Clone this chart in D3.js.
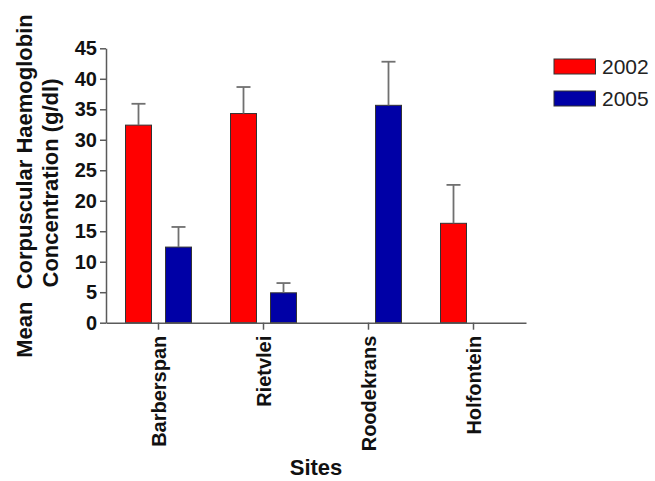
<!DOCTYPE html>
<html>
<head>
<meta charset="utf-8">
<script src="https://cdn.jsdelivr.net/npm/d3@7"></script>
<style>
  html, body { margin: 0; padding: 0; background: #fff; }
  svg { display: block; font-family: "Liberation Sans", Arial, sans-serif; }
</style>
</head>
<body>
<svg id="chart" width="655" height="481"></svg>
<script>
// ---- data ----
const sites = ["Barberspan", "Rietvlei", "Roodekrans", "Holfontein"];
const years = ["2002", "2005"];
const mean2002 = [32.4, 34.3, null, 16.3];
const err2002 = [3.5, 4.35, null, 6.3];
const mean2005 = [12.4, 4.9, 35.65, null];
const err2005 = [3.3, 1.6, 7.15, null];
const yTicks = [0, 5, 10, 15, 20, 25, 30, 35, 40, 45];
const yTitle1 = "Mean  Corpuscular Haemoglobin";
const yTitle2 = "Concentration (g/dl)";
const xTitle = "Sites";
const colors = { "2002": "#ff0000", "2005": "#0000a6" };

const rows = [];
sites.forEach((s, i) => {
  rows.push({ site: s, year: "2002", mean: mean2002[i], err: err2002[i] });
  rows.push({ site: s, year: "2005", mean: mean2005[i], err: err2005[i] });
});

const svg = d3.select("#chart");
const axisColor = "#5a5a5a";

const x = d3.scaleBand().domain(sites).range([106, 526]).padding(0);
const y = d3.scaleLinear().domain([0, 45]).range([322.7, 48.3]);
const sub = d3.scaleBand().domain(years).range([-33, 33]).paddingInner(0.35);

// bars
const bars = rows.filter(d => d.mean != null);
const g = svg.append("g");
g.selectAll("rect.bar").data(bars).join("rect")
  .attr("class", "bar")
  .attr("x", d => x(d.site) + x.bandwidth() / 2 + sub(d.year))
  .attr("width", sub.bandwidth())
  .attr("y", d => y(d.mean))
  .attr("height", d => y(0) - y(d.mean))
  .attr("fill", d => colors[d.year])
  .attr("stroke", "#333")
  .attr("stroke-width", 1);

// error bars (upper only)
const eb = g.selectAll("g.err").data(bars).join("g").attr("class", "err")
  .attr("stroke", "#707070").attr("stroke-width", 1.8);
eb.append("line")
  .attr("x1", d => x(d.site) + x.bandwidth() / 2 + sub(d.year) + sub.bandwidth() / 2)
  .attr("x2", d => x(d.site) + x.bandwidth() / 2 + sub(d.year) + sub.bandwidth() / 2)
  .attr("y1", d => y(d.mean))
  .attr("y2", d => y(d.mean + d.err));
eb.append("line")
  .attr("x1", d => x(d.site) + x.bandwidth() / 2 + sub(d.year) + sub.bandwidth() / 2 - 7)
  .attr("x2", d => x(d.site) + x.bandwidth() / 2 + sub(d.year) + sub.bandwidth() / 2 + 7)
  .attr("y1", d => y(d.mean + d.err))
  .attr("y2", d => y(d.mean + d.err));

// y axis
const yAxis = svg.append("g")
  .attr("transform", "translate(106,0)")
  .call(d3.axisLeft(y).tickValues(yTicks).tickSize(6).tickPadding(3).tickSizeOuter(0));
yAxis.select(".domain").attr("stroke", axisColor).attr("stroke-width", 1.5);
yAxis.selectAll(".tick line").attr("stroke", axisColor).attr("stroke-width", 1.5);
yAxis.selectAll(".tick text")
  .attr("fill", "#111").attr("font-size", "20px").attr("font-weight", "bold")
  .attr("font-family", "'Liberation Sans', Arial, sans-serif");

// x axis
const xAxis = svg.append("g")
  .attr("transform", `translate(0,${y(0)})`)
  .call(d3.axisBottom(x).tickSize(7).tickSizeOuter(0));
xAxis.select(".domain").attr("stroke", axisColor).attr("stroke-width", 1.5);
xAxis.selectAll(".tick line").attr("stroke", axisColor).attr("stroke-width", 1.5);
xAxis.selectAll(".tick text")
  .attr("fill", "#111").attr("font-size", "20px").attr("font-weight", "bold")
  .attr("font-family", "'Liberation Sans', Arial, sans-serif")
  .attr("transform", "rotate(-90)")
  .attr("text-anchor", "end")
  .attr("x", -13).attr("y", 0).attr("dy", "0.35em");

// axis titles
svg.append("text")
  .attr("transform", "translate(32,186) rotate(-90)")
  .attr("text-anchor", "middle")
  .attr("font-size", "22px").attr("font-weight", "bold").attr("fill", "#111")
  .attr("xml:space", "preserve").style("white-space", "pre")
  .text(yTitle1);
svg.append("text")
  .attr("transform", "translate(58,183) rotate(-90)")
  .attr("text-anchor", "middle")
  .attr("font-size", "22px").attr("font-weight", "bold").attr("fill", "#111")
  .text(yTitle2);
svg.append("text")
  .attr("x", 316).attr("y", 475)
  .attr("text-anchor", "middle")
  .attr("font-size", "22px").attr("font-weight", "bold").attr("fill", "#111")
  .text(xTitle);

// legend
const leg = svg.append("g").selectAll("g").data(years).join("g")
  .attr("transform", (d, i) => `translate(554,${59 + i * 32})`);
leg.append("rect")
  .attr("width", 41.5).attr("height", 15)
  .attr("fill", d => colors[d]).attr("stroke", "#333").attr("stroke-width", 1);
leg.append("text")
  .attr("x", 48).attr("y", 14.5)
  .attr("font-size", "21px").attr("fill", "#222")
  .text(d => d);
</script>
</body>
</html>
